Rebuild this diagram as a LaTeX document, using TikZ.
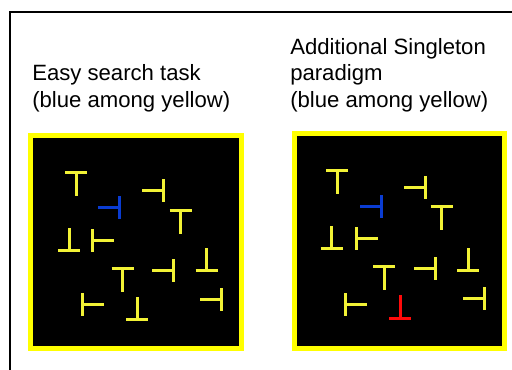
\documentclass[tikz,border=0pt]{standalone}
\usepackage{fontspec}
\setmainfont{Liberation Sans}
\definecolor{framey}{HTML}{FFFF00}
\definecolor{teey}{HTML}{F2F235}
\definecolor{teeblue}{HTML}{0A3CD2}
\definecolor{teered}{HTML}{FF0A0A}
\tikzset{
  lbl/.style={anchor=base west, inner sep=0pt, font=\fontsize{16.6pt}{19.7pt}\selectfont},
  panel/.style={draw=framey, fill=black, line width=3.75pt},
  frameline/.style={line width=1.5pt, black},
  teeline/.style={line width=2.25pt},
  pics/teeD/.style={code={\draw[teeline,#1] (-11,0) -- (11,0) (0,0) -- (0,23);}},
  pics/teeU/.style={code={\draw[teeline,#1] (-11,0) -- (11,0) (0,0) -- (0,-23);}},
  pics/teeL/.style={code={\draw[teeline,#1] (0,-11.5) -- (0,11.5) (0,0) -- (-21.5,0);}},
  pics/teeR/.style={code={\draw[teeline,#1] (0,-11.5) -- (0,11.5) (0,0) -- (21.5,0);}},
}
\begin{document}
\begin{tikzpicture}[x=0.75pt,y=-0.75pt]
\useasboundingbox (0,0) rectangle (512,370);
% outer frame
\draw[frameline] (10,371) -- (10,12) -- (513,12);
% labels
\node[lbl] (la) at (32,81) {Easy search task};
\node[lbl] (lb) at (32,107.5) {(blue among yellow)};
\node[lbl] (ra) at (290,55) {Additional Singleton};
\node[lbl] (rb) at (290,81) {paradigm};
\node[lbl] (rc) at (290,107.5) {(blue among yellow)};
% panels
\draw[panel] (30.5,135.5) rectangle (241.5,348.5);
\draw[panel] (294.5,133.5) rectangle (504.5,348.5);
% left panel items
\pic at (76,172.7) {teeD=teey};
\pic at (163.3,190.7) {teeL=teey};
\pic at (119,208) {teeL=teeblue};
\pic at (180.7,211) {teeD=teey};
\pic at (69,251) {teeU=teey};
\pic at (92.3,241) {teeR=teey};
\pic at (122.7,269) {teeD=teey};
\pic at (173.3,270.7) {teeL=teey};
\pic at (206.7,270.7) {teeU=teey};
\pic at (82.3,305) {teeR=teey};
\pic at (137.3,320) {teeU=teey};
\pic at (221.7,300) {teeL=teey};
% right panel items
\pic at (337.3,170.7) {teeD=teey};
\pic at (425.7,187.3) {teeL=teey};
\pic at (381.7,206.7) {teeL=teeblue};
\pic at (441.7,206.7) {teeD=teey};
\pic at (331.7,249) {teeU=teey};
\pic at (356,239) {teeR=teey};
\pic at (384.3,266.7) {teeD=teey};
\pic at (435,269) {teeL=teey};
\pic at (468.3,270.7) {teeU=teey};
\pic at (345.7,305) {teeR=teey};
\pic at (400,318.3) {teeU=teered};
\pic at (484,298.3) {teeL=teey};
\end{tikzpicture}
\end{document}
